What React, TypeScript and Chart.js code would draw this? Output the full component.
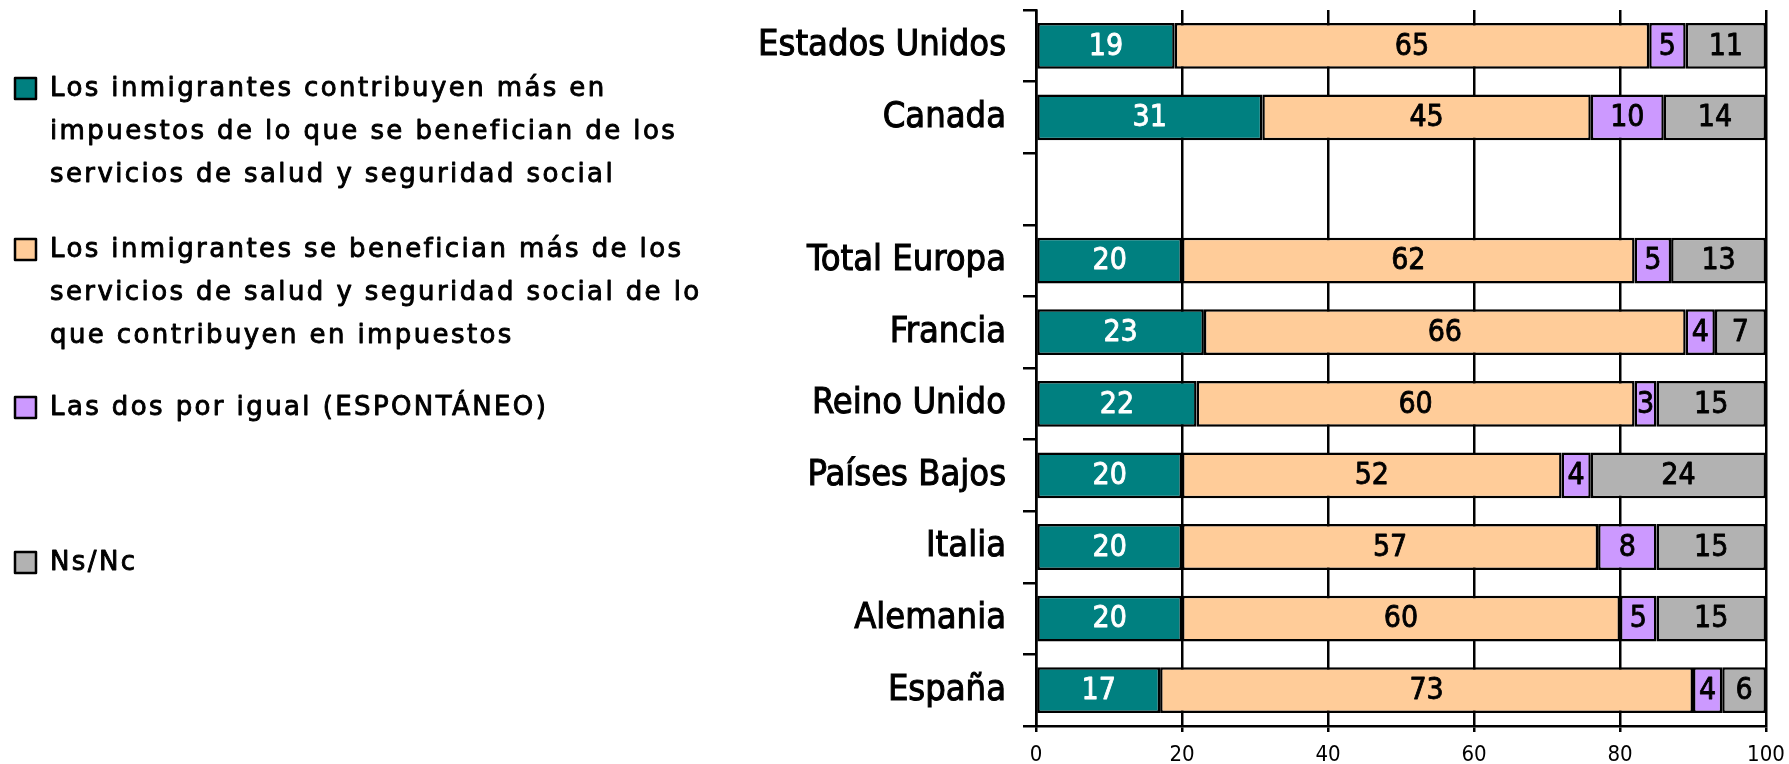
import React, { useEffect, useRef } from 'react';
import { Chart, registerables } from 'chart.js';

Chart.register(...registerables);

// ---------- data ----------
const categories = [
  'Estados Unidos',
  'Canada',
  '',
  'Total Europa',
  'Francia',
  'Reino Unido',
  'Países Bajos',
  'Italia',
  'Alemania',
  'España',
];
const contribuyenMas = [19, 31, null, 20, 23, 22, 20, 20, 20, 17];
const beneficianMas = [65, 45, null, 62, 66, 60, 52, 57, 60, 73];
const lasDosIgual = [5, 10, null, 5, 4, 3, 4, 8, 5, 4];
const nsNc = [11, 14, null, 13, 7, 15, 24, 15, 15, 6];
const xTickValues = [0, 20, 40, 60, 80, 100];

const legendLines = [
  ['Los inmigrantes contribuyen más en', 'impuestos de lo que se benefician de los', 'servicios de salud y seguridad social'],
  ['Los inmigrantes se benefician más de los', 'servicios de salud y seguridad social de lo', 'que contribuyen en impuestos'],
  ['Las dos por igual (ESPONTÁNEO)'],
  ['Ns/Nc'],
];
const seriesNames = legendLines.map((l) => l.join(' '));
const seriesValues = [contribuyenMas, beneficianMas, lasDosIgual, nsNc];

// ---------- styles ----------
const colors = ['#008080', '#FFCC99', '#CC99FF', '#B2B2B2'];
const labelColors = ['#FFFFFF', '#000000', '#000000', '#000000'];
const SANS = '"DejaVu Sans", sans-serif';
const COND = '"DejaVu Sans Condensed", "Liberation Sans Narrow", "DejaVu Sans", sans-serif';
const legendFirstLineY = [89, 250, 408, 563];
const legendLineGap = 43;

const legendPlugin = {
  id: 'sideLegend',
  afterDraw(chart: any) {
    const ctx = chart.ctx as CanvasRenderingContext2D;
    ctx.save();
    ctx.font = `26px ${SANS}`;
    (ctx as any).letterSpacing = '2.4px';
    ctx.textBaseline = 'middle';
    ctx.textAlign = 'left';
    ctx.lineJoin = 'round';
    legendLines.forEach((lines, i) => {
      const y0 = legendFirstLineY[i];
      ctx.fillStyle = colors[i];
      ctx.fillRect(15, y0 - 11, 21, 21);
      ctx.strokeStyle = '#000';
      ctx.lineWidth = 2.5;
      ctx.strokeRect(15, y0 - 11, 21, 21);
      ctx.fillStyle = '#000';
      ctx.lineWidth = 0.9;
      lines.forEach((t, j) => {
        ctx.strokeText(t, 50, y0 + j * legendLineGap);
        ctx.fillText(t, 50, y0 + j * legendLineGap);
      });
    });
    ctx.restore();
  },
};

const valueLabelPlugin = {
  id: 'valueLabels',
  afterDatasetsDraw(chart: any) {
    const ctx = chart.ctx as CanvasRenderingContext2D;
    ctx.save();
    ctx.font = `30px ${COND}`;
    ctx.textAlign = 'center';
    ctx.textBaseline = 'middle';
    ctx.lineJoin = 'round';
    ctx.lineWidth = 0.8;
    chart.data.datasets.forEach((ds: any, di: number) => {
      const meta = chart.getDatasetMeta(di);
      meta.data.forEach((el: any, i: number) => {
        const v = ds.data[i];
        if (v == null) return;
        const p = el.getProps(['x', 'y', 'base'], true);
        ctx.fillStyle = labelColors[di];
        ctx.strokeStyle = labelColors[di];
        const cx = (p.x + p.base) / 2;
        ctx.strokeText(String(v), cx, p.y + 1);
        ctx.fillText(String(v), cx, p.y + 1);
      });
    });
    ctx.restore();
  },
};

export default function App() {
  const canvasRef = useRef<HTMLCanvasElement | null>(null);

  useEffect(() => {
    if (!canvasRef.current) return;
    const chart = new Chart(canvasRef.current, {
      type: 'bar',
      data: {
        labels: categories,
        datasets: seriesValues.map((vals, i) => ({
          label: seriesNames[i],
          data: vals,
          backgroundColor: colors[i],
          borderColor: '#000000',
          borderWidth: 2.5,
          borderSkipped: false,
          barPercentage: 0.64,
          categoryPercentage: 1,
        })),
      },
      options: {
        indexAxis: 'y',
        animation: false,
        responsive: true,
        maintainAspectRatio: false,
        devicePixelRatio: 1,
        layout: { padding: { top: 10, right: 23, left: 0, bottom: 0 } },
        plugins: {
          legend: { display: false },
          tooltip: { enabled: false },
        },
        scales: {
          x: {
            stacked: true,
            min: 0,
            max: 100,
            afterBuildTicks: (scale: any) => {
              scale.ticks = xTickValues.map((v) => ({ value: v }));
            },
            afterFit: (scale: any) => {
              scale.height = 38;
              scale.paddingLeft = 0;
              scale.paddingRight = 0;
            },
            ticks: {
              color: '#000',
              font: { family: COND, size: 22 },
              padding: 10,
              maxRotation: 0,
            },
            grid: {
              color: '#000',
              lineWidth: 2.5,
              tickLength: 6,
              drawOnChartArea: true,
            },
            border: { display: true, color: '#000', width: 2.5 },
          },
          y: {
            stacked: true,
            afterFit: (scale: any) => {
              scale.width = 1036;
              scale.paddingTop = 0;
              scale.paddingBottom = 0;
            },
            ticks: {
              color: '#000',
              font: { family: COND, size: 36 },
              padding: 17,
              textStrokeColor: '#000',
              textStrokeWidth: 1,
            },
            grid: {
              offset: true,
              color: '#000',
              lineWidth: 2.5,
              tickLength: 13,
              drawOnChartArea: false,
            },
            border: { display: true, color: '#000', width: 2.5 },
          },
        },
      },
      plugins: [legendPlugin, valueLabelPlugin],
    });
    return () => chart.destroy();
  }, []);

  return (
    <div style={{ position: 'fixed', left: 0, top: 0, width: 1789, height: 764, background: '#fff' }}>
      <canvas ref={canvasRef} />
    </div>
  );
}
